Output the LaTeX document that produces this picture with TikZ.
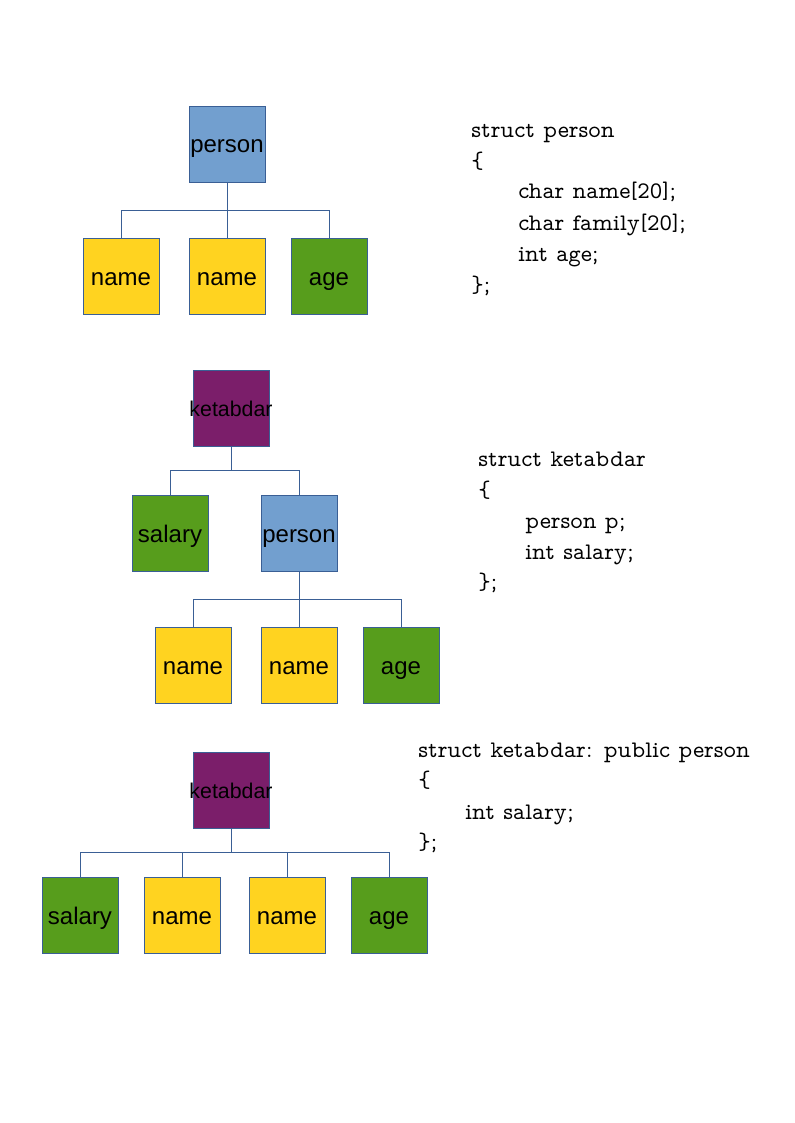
\documentclass[tikz,border=0pt]{standalone}
\usepackage{fontspec}
\newfontfamily\labelfont{Liberation Sans}
\newfontfamily\codefont{Latin Modern Mono Prop}
\definecolor{lineblue}{HTML}{3A5F95}
\definecolor{structblue}{HTML}{729FCF}
\definecolor{fieldyellow}{HTML}{FFD320}
\definecolor{fieldgreen}{HTML}{579D1C}
\definecolor{classpurple}{HTML}{7B1E6A}
\begin{document}
\begin{tikzpicture}[
  x=0.75pt, y=-0.75pt,
  box/.style={draw=lineblue, line width=0.6pt, minimum size=57pt, inner sep=0pt,
    text height=15pt, text depth=1.5pt,
    font=\labelfont\fontsize{18}{20}\selectfont},
  bluebox/.style={box, fill=structblue},
  yellowbox/.style={box, fill=fieldyellow},
  greenbox/.style={box, fill=fieldgreen},
  purplebox/.style={box, fill=classpurple, text height=13.5pt,
    font=\labelfont\fontsize{16}{18}\selectfont},
  link/.style={draw=lineblue, line width=0.7pt},
  code/.style={anchor=base west, inner sep=0pt, font=\codefont\fontsize{17.8}{22}\selectfont}]

\path[use as bounding box, fill=white] (0,0) rectangle (794,1123);

% first tree: struct person
\node[bluebox] (person) at (227,144) {person};
\node[yellowbox] (name) at (121,276) {name};
\node[yellowbox] (family) at (227,276) {name};
\node[greenbox] (age) at (329,276) {age};
\coordinate (j1) at (227,210);

% second tree: ketabdar holding a person
\node[purplebox] (ketabdar) at (231,408) {\makebox[57pt]{ketabdar}};
\node[greenbox] (salary) at (170,533) {salary};
\node[bluebox] (personB) at (299,533) {person};
\node[yellowbox] (nameB) at (193,665) {name};
\node[yellowbox] (familyB) at (299,665) {name};
\node[greenbox] (ageB) at (401,665) {age};
\coordinate (j2) at (231,470);
\coordinate (j3) at (299,599);

% third tree: ketabdar derived from person
\node[purplebox] (ketabdarC) at (231,790) {\makebox[57pt]{ketabdar}};
\node[greenbox] (salaryC) at (80,915) {salary};
\node[yellowbox] (nameC) at (182,915) {name};
\node[yellowbox] (familyC) at (287,915) {name};
\node[greenbox] (ageC) at (389,915) {age};
\coordinate (j4) at (231,852);

% connectors
\draw[link] (person) -- (j1);
\foreach \kid in {name,family,age} \draw[link] (j1) -| (\kid);
\draw[link] (ketabdar) -- (j2);
\foreach \kid in {salary,personB} \draw[link] (j2) -| (\kid);
\draw[link] (personB) -- (j3);
\foreach \kid in {nameB,familyB,ageB} \draw[link] (j3) -| (\kid);
\draw[link] (ketabdarC) -- (j4);
\foreach \kid in {salaryC,nameC,familyC,ageC} \draw[link] (j4) -| (\kid);

% the struct declarations
\foreach \cx/\cy/\txt [count=\i] in {
    471/138/struct person, 471/169/\{, 518/199/char name[20];,
    518/230/char family[20];, 518/261/int age;, 471/292/\};,
    478/466/struct ketabdar, 478/497/\{, 525/528/person p;,
    525/559/int salary;, 478/589/\};,
    418/757/struct ketabdar: public person, 418/787/\{,
    465/819/int salary;, 418/849/\};}
  \node[code] (code\i) at (\cx,\cy) {\txt};

\end{tikzpicture}
\end{document}
